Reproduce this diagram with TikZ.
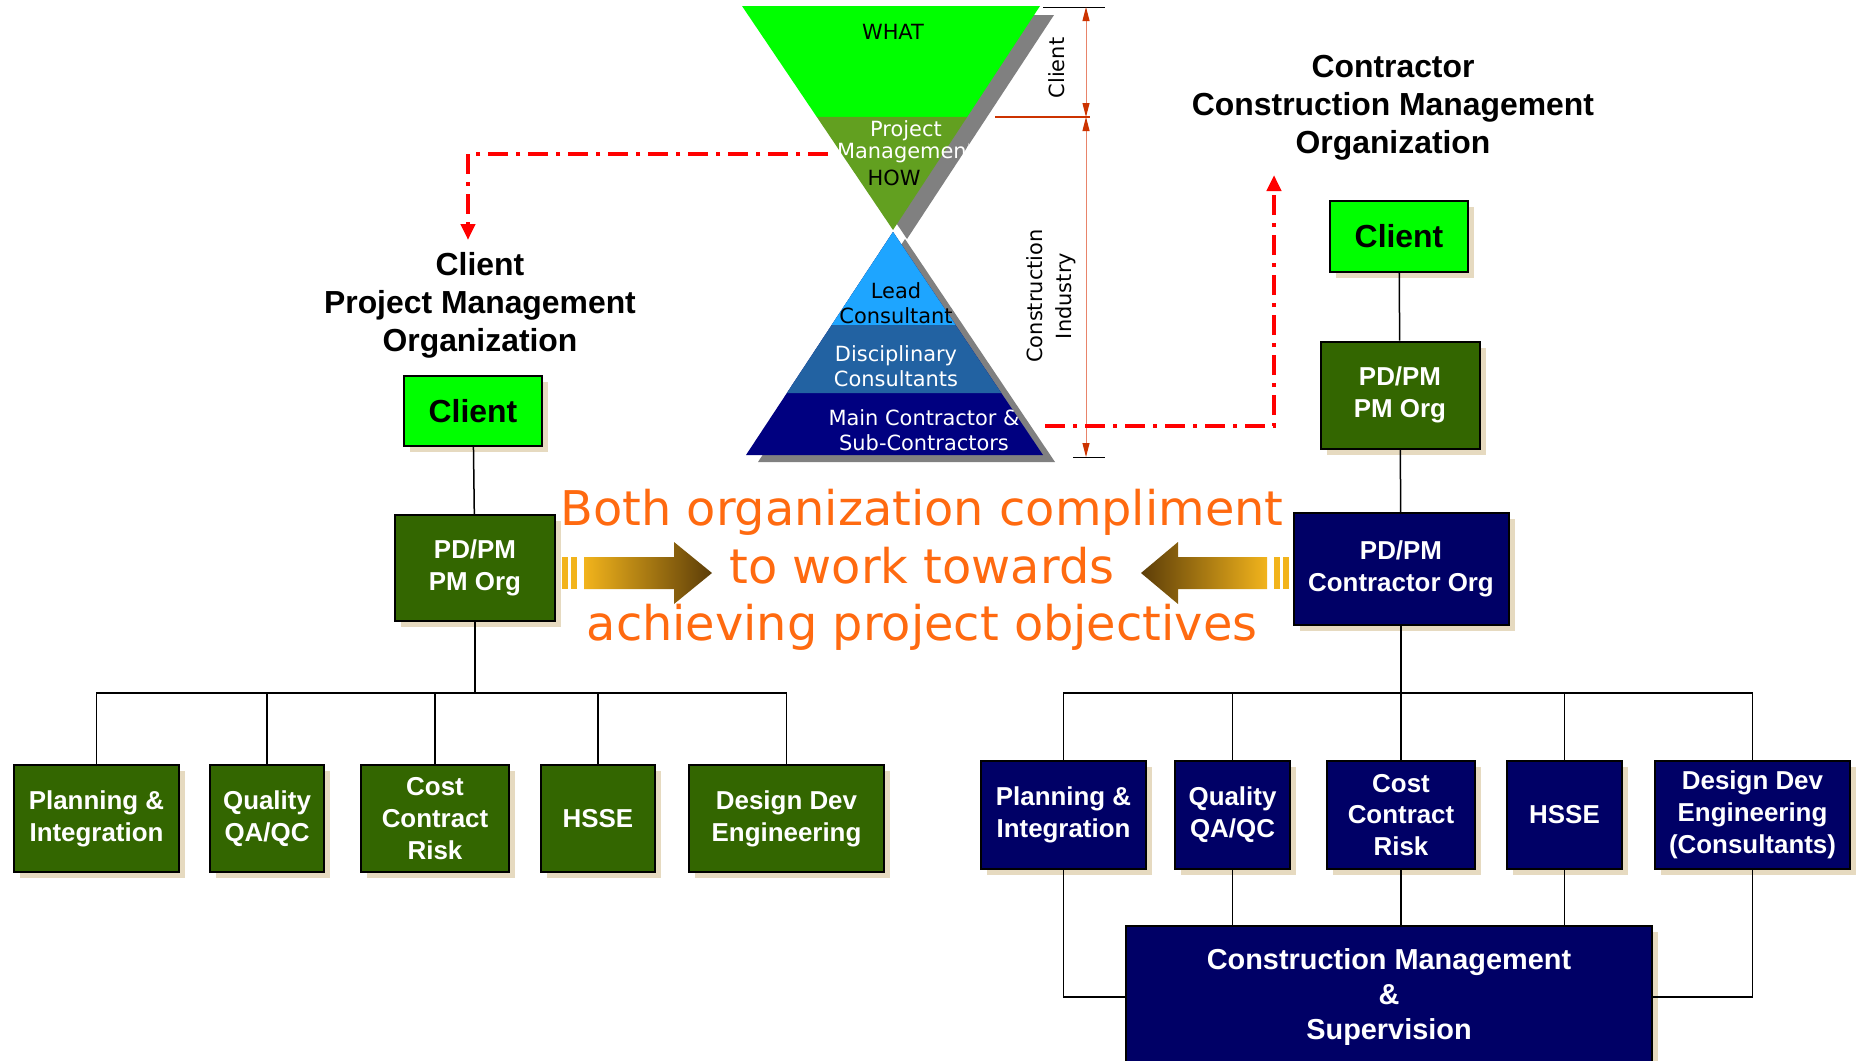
\documentclass[tikz,border=0pt]{standalone}
\usepackage{fontspec}
\setmainfont{Liberation Sans}
\newfontfamily\verdfont{DejaVu Sans}
\usetikzlibrary{arrows.meta,calc,shadows}

\definecolor{limebox}{HTML}{00FF00}
\definecolor{pmgreen}{HTML}{336600}
\definecolor{conavy}{HTML}{000066}
\definecolor{olivepm}{HTML}{62A020}
\definecolor{leadblue}{HTML}{1EA5FF}
\definecolor{discblue}{HTML}{2262A2}
\definecolor{mainnavy}{HTML}{000080}
\definecolor{shadowtan}{HTML}{E6DAC0}
\definecolor{dimred}{HTML}{CC3300}
\definecolor{dimline}{HTML}{E8846A}
\definecolor{slogan}{HTML}{FF6A10}
\definecolor{arrgold}{HTML}{F2B41C}
\definecolor{arrbrown}{HTML}{5C3D08}

\tikzset{
  orgbox/.style={draw=black, line width=2bp, align=center, inner sep=0pt,
    text=white, font=\bfseries\fontsize{26}{32}\selectfont,
    drop shadow={shadow xshift=6bp, shadow yshift=-6bp, fill=shadowtan, opacity=1}},
  pmbox/.style={orgbox, fill=pmgreen},
  conbox/.style={orgbox, fill=conavy},
  clientbox/.style={orgbox, fill=limebox, text=black,
    font=\bfseries\fontsize{32}{38}\selectfont},
  link/.style={line width=1.5bp},
  title/.style={align=center, font=\bfseries\fontsize{32}{38}\selectfont},
  hgtext/.style={align=center, font=\verdfont\fontsize{21}{24.5}\selectfont},
  flow/.style={red, line width=4bp, dash pattern=on 20bp off 8bp on 4bp off 8bp,
    -{Triangle[length=16bp,width=14bp]}},
  dimarrow/.style={dimline, line width=1bp,
    {Triangle[length=14bp,width=7bp,color=dimred]}-{Triangle[length=14bp,width=7bp,color=dimred]}}
}

\begin{document}
\begin{tikzpicture}[x=1bp,y=-1bp]

  \useasboundingbox[fill=white] (0,0) rectangle (1856,1060);

  % hourglass corners
  \coordinate (htl) at (742,6);
  \coordinate (htr) at (1040,6);
  \coordinate (hta) at (893,230);
  \coordinate (hba) at (893,232);
  \coordinate (hbl) at (746,455);
  \coordinate (hbr) at (1043,455);

  % grey shadows of the hourglass
  \fill[gray] ([shift={(14,9)}]htl) -- ([shift={(14,9)}]htr) -- ([shift={(14,9)}]hta) -- cycle;
  \fill[gray] ([shift={(12,7)}]hba) -- ([shift={(12,7)}]hbl) -- ([shift={(12,7)}]hbr) -- cycle;

  % upper cone: what / how
  \fill[limebox] (htl) -- (htr) -- ($(htr)!.4955!(hta)$) -- ($(htl)!.4955!(hta)$) -- cycle;
  \fill[olivepm] ($(htl)!.4955!(hta)$) -- ($(htr)!.4955!(hta)$) -- (hta) -- cycle;

  % lower cone: construction industry
  \fill[mainnavy] (hba) -- (hbl) -- (hbr) -- cycle;
  \fill[discblue] (hba) -- ($(hba)!.722!(hbl)$) -- ($(hba)!.722!(hbr)$) -- cycle;
  \fill[leadblue] (hba) -- ($(hba)!.417!(hbl)$) -- ($(hba)!.417!(hbr)$) -- cycle;

  % hourglass labels
  \node[hgtext] (what) at (893,32) {WHAT};
  \node[hgtext, text=white] (project) at (906,131) {Project};
  \begin{scope}
    \clip (800,138) rectangle (968,170);
    \node[hgtext, text=white] (mgmt) at (906,153) {Management};
  \end{scope}
  \node[hgtext] (how) at (894,178) {HOW};
  \node[hgtext] (lead) at (896,303) {Lead\\Consultant};
  \node[hgtext, text=white] (disc) at (896,366) {Disciplinary\\Consultants};
  \node[hgtext, text=white] (mainc) at (924,430) {Main Contractor \&\\Sub-Contractors};

  % dimension lines
  \coordinate (dimtop) at (1086,7);
  \coordinate (dimmid) at (1086,117);
  \coordinate (dimbot) at (1086,457);
  \draw[black, line width=1bp] (1043,7) -- (1105,7);
  \draw[dimred, line width=2.5bp] (995,117) -- (1090,117);
  \draw[black, line width=1bp] (1073,457) -- (1105,457);
  \draw[dimarrow] (dimtop) -- (dimmid);
  \draw[dimarrow] (dimmid) -- (dimbot);
  \node[hgtext, rotate=90] (clientdim) at (1057,68) {Client};
  \node[hgtext, rotate=90, font=\verdfont\fontsize{21}{29}\selectfont] (industry) at (1051,296) {Construction\\Industry};

  % red dash-dot links
  \coordinate (pmhow) at (828,154);
  \coordinate (ltip) at (468,240);
  \draw[flow] (pmhow) -| (ltip);
  \coordinate (mainlevel) at (1045,426);
  \coordinate (rtip) at (1274,175);
  \draw[flow] (mainlevel) -| (rtip);

  % titles
  \node[title] (ltitle) at (480,305) {Client\\Project Management\\Organization};
  \node[title] (rtitle) at (1393,108) {Contractor\\Construction Management\\Organization};

  % client organization
  \node[clientbox, minimum width=138bp, minimum height=70bp] (lclient) at (473,411) {Client};
  \node[pmbox, minimum width=160bp, minimum height=106bp] (lpm) at (475,568) {PD/PM\\PM Org};
  \node[pmbox, minimum width=165bp, minimum height=107bp] (lplan) at (96.5,818.5) {Planning \&\\Integration};
  \node[pmbox, minimum width=114bp, minimum height=107bp] (lqual) at (267,818.5) {Quality\\QA/QC};
  \node[pmbox, minimum width=148bp, minimum height=107bp] (lcost) at (435,818.5) {Cost\\Contract\\Risk};
  \node[pmbox, minimum width=114bp, minimum height=107bp] (lhsse) at (598,818.5) {HSSE};
  \node[pmbox, minimum width=195bp, minimum height=107bp] (ldes) at (786.5,818.5) {Design Dev\\Engineering};

  \draw[link] (lclient) -- (lpm);
  \foreach \c in {lplan,lqual,lcost,lhsse,ldes}
    \draw[link] (lpm.south) -- ++(0,71) -| (\c.north);

  % contractor organization
  \node[clientbox, minimum width=138bp, minimum height=71bp] (rclient) at (1399,236) {Client};
  \node[pmbox, minimum width=159bp, minimum height=107bp] (rpm) at (1400,395) {PD/PM\\PM Org};
  \node[conbox, minimum width=215bp, minimum height=112bp] (rcon) at (1401,569) {PD/PM\\Contractor Org};
  \node[conbox, minimum width=165bp, minimum height=108bp] (rplan) at (1063.5,815) {Planning \&\\Integration};
  \node[conbox, minimum width=115bp, minimum height=108bp] (rqual) at (1232.5,815) {Quality\\QA/QC};
  \node[conbox, minimum width=148bp, minimum height=108bp] (rcost) at (1401,815) {Cost\\Contract\\Risk};
  \node[conbox, minimum width=115bp, minimum height=108bp] (rhsse) at (1564.5,815) {HSSE};
  \node[conbox, minimum width=195bp, minimum height=108bp] (rdes) at (1752.5,815) {Design Dev\\Engineering\\(Consultants)};
  \node[conbox, minimum width=526bp, minimum height=142bp,
    font=\bfseries\fontsize{29}{35.5}\selectfont] (cm) at (1389,997) {Construction Management\\\&\\Supervision};

  \draw[link] (rclient) -- (rpm);
  \draw[link] (rpm) -- (rcon);
  \foreach \c in {rplan,rqual,rcost,rhsse,rdes}
    \draw[link] (rcon.south) -- ++(0,67) -| (\c.north);
  \draw[link] (rplan.south) |- (cm.west);
  \draw[link] (rdes.south) |- (cm.east);
  \foreach \c in {rqual,rcost,rhsse}
    \draw[link] (\c.south) -- (\c.south |- cm.north);

  % gold arrows
  \fill[arrgold] (562,557) rectangle (568,589);
  \fill[arrgold] (571,557) rectangle (577,589);
  \shade[left color=arrgold, right color=arrbrown] (584,557) -- (674,557) -- (674,542)
    -- (712,573) -- (674,604) -- (674,589) -- (584,589) -- cycle;
  \fill[arrgold] (1283,557) rectangle (1289,589);
  \fill[arrgold] (1274,557) rectangle (1280,589);
  \shade[left color=arrbrown, right color=arrgold] (1267,557) -- (1178,557) -- (1178,542)
    -- (1141,573) -- (1178,604) -- (1178,589) -- (1267,589) -- cycle;

  % slogan
  \node[align=center, text=slogan, font=\verdfont\fontsize{48}{58}\selectfont] (slogan)
    at (922,570) {Both organization compliment\\to work towards\\achieving project objectives};

\end{tikzpicture}
\end{document}
